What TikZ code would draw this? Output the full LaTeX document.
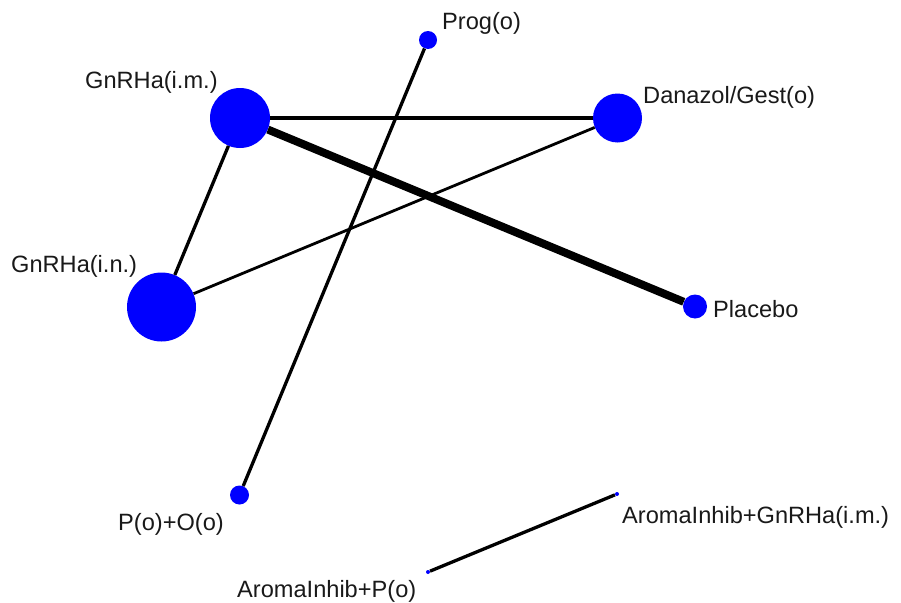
\documentclass[tikz,border=0pt]{standalone}
\usepackage{fontspec}
\setmainfont{Liberation Sans}
\definecolor{nodeblue}{RGB}{0,0,255}
\tikzset{
  trt/.style={circle, fill=nodeblue, inner sep=0pt, minimum size=#1},
  lbl/.style={anchor=base west, inner sep=0pt, font=\fontsize{23.6}{26}\selectfont, text=black!90},
  edge/.style={draw=black, line width=#1}
}
\begin{document}
\begin{tikzpicture}[x=1pt,y=-1pt]
\useasboundingbox (0,0) rectangle (901,602);
% treatment nodes
\node[trt=60pt] (gim) at (240,118) {};
\node[trt=69pt] (gin) at (161.5,307) {};
\node[trt=18pt] (prog) at (428,40) {};
\node[trt=49pt] (dan) at (617.5,118) {};
\node[trt=24pt] (pla) at (695,306.5) {};
\node[trt=19pt] (poo) at (239.5,495) {};
\node[trt=4pt] (agim) at (617,494) {};
\node[trt=4pt] (ap) at (428,572) {};
% edges
\draw[edge=3.3pt] (gim) -- (dan);
\draw[edge=8pt] (gim) -- (pla);
\draw[edge=3.3pt] (gim) -- (gin);
\draw[edge=2.8pt] (gin) -- (dan);
\draw[edge=3.3pt] (prog) -- (poo);
\draw[edge=3.3pt] (agim) -- (ap);
% labels
\node[lbl] (lgim) at (85,88) {GnRHa(i.m.)};
\node[lbl] (lgin) at (11,272) {GnRHa(i.n.)};
\node[lbl] (lprog) at (442,30) {Prog(o)};
\node[lbl] (ldan) at (643,103) {Danazol/Gest(o)};
\node[lbl] (lpla) at (713,317) {Placebo};
\node[lbl] (lpoo) at (118,530) {P(o)+O(o)};
\node[lbl] (lagim) at (622,523) {AromaInhib+GnRHa(i.m.)};
\node[lbl] (lap) at (237,597) {AromaInhib+P(o)};
\end{tikzpicture}
\end{document}
